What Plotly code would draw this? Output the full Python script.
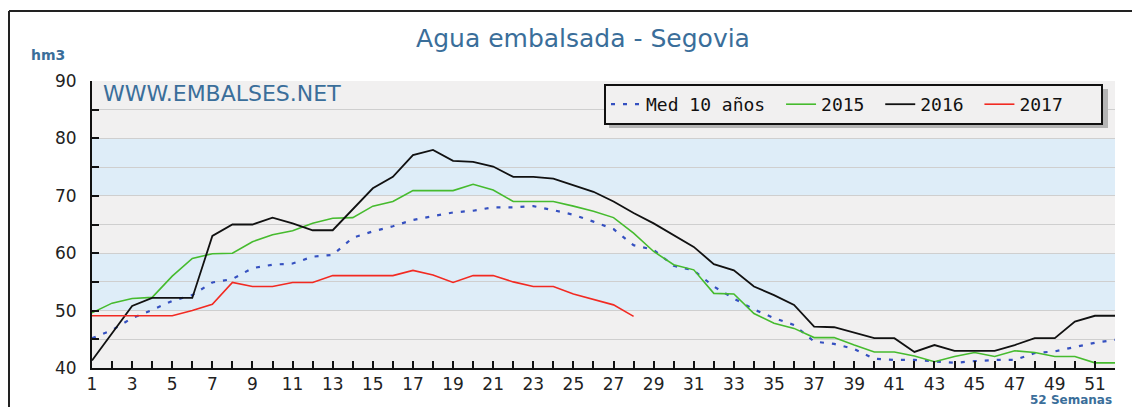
import plotly.graph_objects as go

weeks = list(range(1, 53))
med_10 = [45.2, 46.6, 48.7, 50.1, 51.7, 52.7, 54.9, 55.5, 57.4, 58.0, 58.2, 59.4, 59.7,
          62.7, 63.8, 64.7, 65.8, 66.4, 67.1, 67.4, 68.0, 68.0, 68.2, 67.5, 66.7, 65.5,
          64.2, 61.4, 60.6, 57.8, 57.0, 54.2, 52.1, 50.2, 48.7, 47.5, 44.6, 44.2, 43.3,
          41.6, 41.4, 41.4, 41.1, 40.9, 41.2, 41.4, 41.4, 42.6, 42.9, 43.7, 44.4, 44.9]
y2015 = [49.6, 51.3, 52.1, 52.3, 56.0, 59.1, 59.9, 60.0, 62.0, 63.2, 63.9, 65.2, 66.1,
         66.2, 68.2, 69.0, 70.9, 70.9, 70.9, 72.0, 71.0, 69.0, 69.0, 69.0, 68.2, 67.3,
         66.2, 63.5, 60.3, 58.0, 57.1, 53.0, 52.9, 49.5, 47.8, 46.9, 45.3, 45.3, 44.0,
         42.8, 42.8, 42.1, 41.1, 42.0, 42.7, 42.0, 43.0, 42.7, 42.0, 42.0, 40.9, 40.9]
y2016 = [41.3, 46.0, 50.8, 52.2, 52.2, 52.2, 63.0, 65.0, 65.0, 66.2, 65.2, 64.0, 64.0,
         67.7, 71.3, 73.3, 77.1, 78.0, 76.1, 75.9, 75.1, 73.3, 73.3, 73.0, 71.9, 70.7,
         69.0, 67.0, 65.2, 63.2, 61.1, 58.1, 57.0, 54.2, 52.7, 51.0, 47.2, 47.1, 46.1,
         45.2, 45.2, 42.8, 44.0, 43.0, 43.0, 43.0, 44.0, 45.2, 45.2, 48.1, 49.1, 49.1]
y2017 = [49.1, 49.1, 49.1, 49.1, 49.1, 50.0, 51.1, 54.9, 54.2, 54.2, 54.9, 54.9, 56.1,
         56.1, 56.1, 56.1, 57.0, 56.2, 54.9, 56.1, 56.1, 55.0, 54.2, 54.2, 52.9, 52.0,
         51.0, 49.0]
series_names = ["Med 10 años", "2015", "2016", "2017"]
x_ticks = weeks
x_labels = [str(w) if (w % 2 == 1) else "" for w in weeks]
y_ticks = list(range(40, 91, 5))
y_labels = [str(v) if v % 10 == 0 else "" for v in y_ticks]
bands = [(40, 50, "#f1f0f0"), (50, 60, "#deedf8"), (60, 70, "#f1f0f0"),
         (70, 80, "#deedf8"), (80, 90, "#f1f0f0")]

# page has an 8px body margin; figure is sized to fit the window
OFF = 8
W, H = 1140 - OFF, 407 - OFF
L, R, T, B = 92, 1115, 81, 368   # plot area in page pixels


def px(X):
    return (X - L) / (R - L)


def py(Y):
    return (B - Y) / (B - T)


NB = "\u00a0"
fig = go.Figure()
fig.add_trace(go.Scatter(x=weeks, y=med_10, mode="lines", name=series_names[0] + NB,
                         line=dict(color="#3550c0", width=2.2, dash="4px,8px")))
fig.add_trace(go.Scatter(x=weeks, y=y2015, mode="lines", name=series_names[1] + NB,
                         line=dict(color="#46bb2e", width=1.6)))
fig.add_trace(go.Scatter(x=weeks, y=y2016, mode="lines", name=series_names[2] + NB,
                         line=dict(color="#111111", width=1.8)))
fig.add_trace(go.Scatter(x=weeks[:len(y2017)], y=y2017, mode="lines",
                         name=series_names[3] + NB * 3,
                         line=dict(color="#f22a22", width=1.6)))

shapes = []
for y0, y1, c in bands:
    shapes.append(dict(type="rect", xref="paper", yref="y", x0=0, x1=1, y0=y0, y1=y1,
                       fillcolor=c, line=dict(width=0), layer="below"))
# outer frame
shapes.append(dict(type="line", xref="paper", yref="paper", x0=px(9), x1=px(1150),
                   y0=py(11), y1=py(11), line=dict(color="#222", width=2)))
shapes.append(dict(type="line", xref="paper", yref="paper", x0=px(9), x1=px(9),
                   y0=py(11), y1=py(420), line=dict(color="#222", width=2)))
# legend shadow
shapes.append(dict(type="rect", xref="paper", yref="paper", x0=px(609), x1=px(1108),
                   y0=py(128), y1=py(89), fillcolor="#b5b5b5", line=dict(width=0)))

fig.update_layout(
    width=W, height=H,
    margin=dict(l=L - OFF, r=(W + OFF) - R, t=T - OFF, b=(H + OFF) - B),
    paper_bgcolor="white",
    plot_bgcolor="#f1f0f0",
    shapes=shapes,
    showlegend=True,
    legend=dict(orientation="h", x=px(604), xanchor="left", y=py(84), yanchor="top",
                bgcolor="#f1f0f0", bordercolor="#111", borderwidth=2,
                font=dict(family="DejaVu Sans Mono", size=18, color="#111"),
                itemwidth=30, tracegroupgap=0),
    title=dict(text="Agua embalsada - Segovia", x=px(583), xref="paper", xanchor="center",
               y=1 - (38 - OFF) / H, yanchor="middle",
               font=dict(family="DejaVu Sans", size=25, color="#3a6e9a")),
    annotations=[
        dict(text="<b>hm3</b>", xref="paper", yref="paper", x=px(29), y=py(55),
             xanchor="left", yanchor="middle", showarrow=False,
             font=dict(family="DejaVu Sans", size=14, color="#3a6e9a")),
        dict(text="WWW.EMBALSES.NET", xref="paper", yref="paper", x=px(101), y=py(93),
             xanchor="left", yanchor="middle", showarrow=False,
             font=dict(family="DejaVu Sans", size=22, color="#3a6e9a")),
        dict(text="<b>52 Semanas</b>", xref="paper", yref="paper", x=px(1114), y=py(400),
             xanchor="right", yanchor="middle", showarrow=False,
             font=dict(family="DejaVu Sans", size=12, color="#3a6e9a")),
    ],
    xaxis=dict(range=[1, 52], tickmode="array", tickvals=x_ticks, ticktext=x_labels,
               ticks="inside", ticklen=7, tickwidth=2, tickcolor="#111",
               showline=True, linecolor="#111", linewidth=2, showgrid=False,
               zeroline=False, fixedrange=True,
               tickfont=dict(family="DejaVu Sans", size=17, color="#222")),
    yaxis=dict(range=[40, 90], tickmode="array", tickvals=y_ticks, ticktext=y_labels,
               ticks="inside", ticklen=7, tickwidth=2, tickcolor="#111",
               showline=True, linecolor="#111", linewidth=2, showgrid=True,
               gridcolor="#cfcfcf", gridwidth=1, zeroline=False, ticklabelstandoff=10,
               tickfont=dict(family="DejaVu Sans", size=17, color="#222")),
)
fig.write_html("out.html")
